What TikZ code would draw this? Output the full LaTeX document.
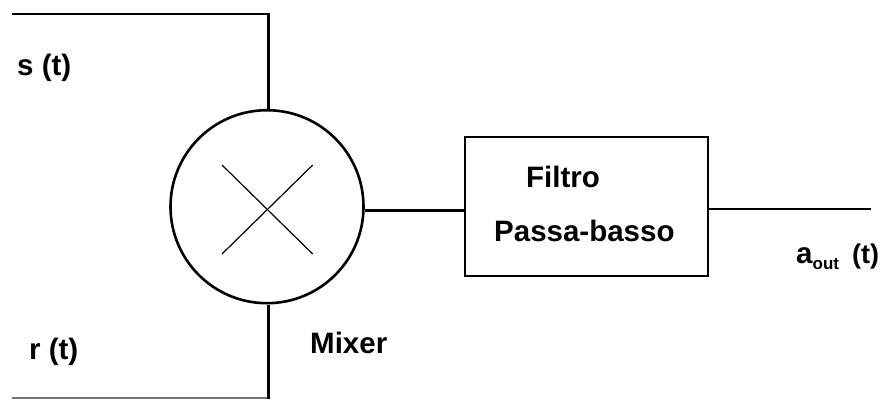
\documentclass[tikz,border=0pt]{standalone}
\usepackage{fontspec}
\setmainfont{Liberation Sans}
\begin{document}
\begin{tikzpicture}[x=1pt,y=-1pt,
  wire/.style={draw=black,line width=2.6pt},
  thin wire/.style={draw=black,line width=1.2pt},
  edge wire/.style={draw=black!55,line width=1.6pt},
  lbl/.style={font=\fontsize{29.5}{32}\selectfont\bfseries,inner sep=0pt,text=black,anchor=base west}]
\useasboundingbox (0,0) rectangle (880,399);
\fill[white] (0,0) rectangle (880,399);
\node[circle,draw=black,line width=2.6pt,minimum size=193pt,inner sep=0pt] (mix) at (267,206.7) {};
\node[rectangle,draw=black,line width=2.6pt,minimum width=243pt,minimum height=139pt,inner sep=0pt] (lpf) at (586.5,206.5) {};
\coordinate (s0) at (12,14);
\coordinate (s1) at (268.4,14);
\coordinate (r0) at (12,398.2);
\coordinate (r1) at (268.4,398.2);
\coordinate (o) at (871,209);
\draw[wire,line join=miter] (s0) -- (s1) -- (s1 |- mix.north);
\draw[edge wire] (r0) -- (r1);
\draw[wire] (r1 |- 0,399) -- (r1 |- mix.south);
\draw[wire] (mix.east |- 0,210.5) -- (lpf.west |- 0,210.5);
\draw[wire] (lpf.east |- o) -- (o);
\draw[thin wire] (222,165) -- (312.7,254);
\draw[thin wire] (312.7,165) -- (222,254);
\node[lbl] (st) at (17,75) {s (t)};
\node[lbl] (rt) at (29,359) {r (t)};
\node[lbl] (mx) at (310,353) {Mixer};
\node[lbl] (f1) at (526,187) {Filtro};
\node[lbl] (f2) at (494,241) {Passa-basso};
\node[lbl] (ao) at (796,263) {a\raisebox{-6pt}{\fontsize{17}{20}\selectfont out}\hspace{13pt}\fontsize{27}{30}\selectfont (t)};
\end{tikzpicture}
\end{document}
